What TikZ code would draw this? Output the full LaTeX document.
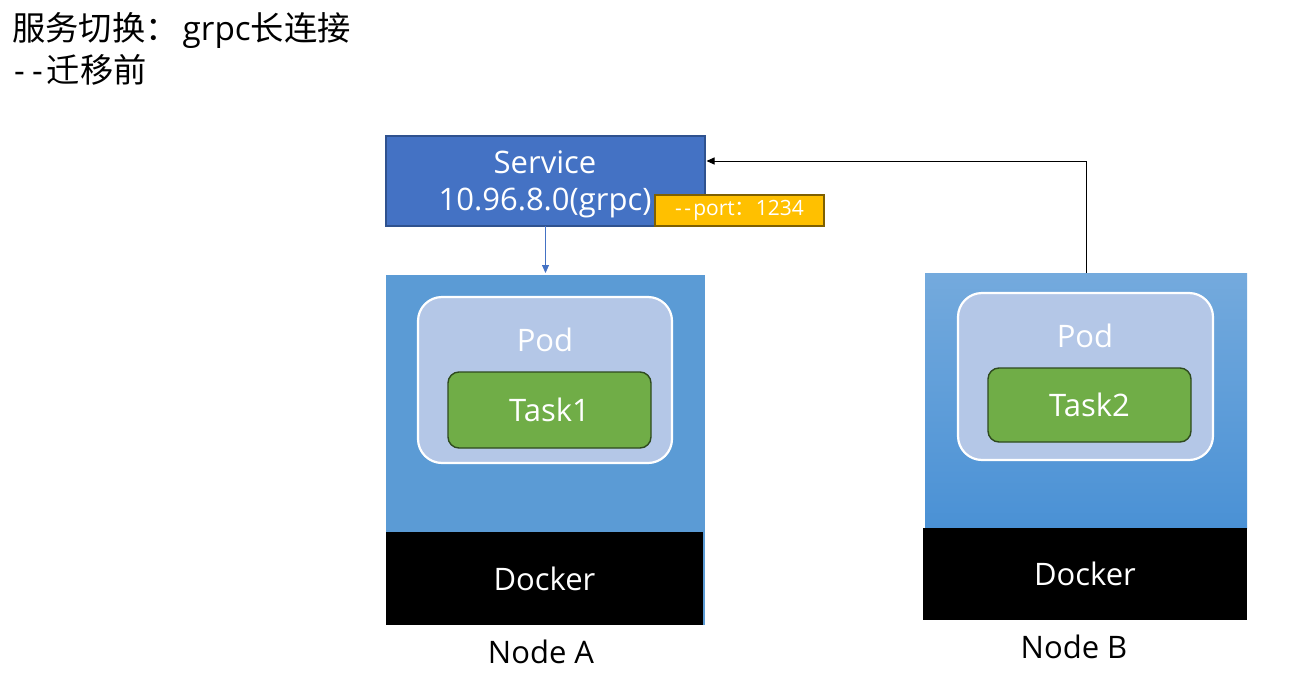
\documentclass[tikz,border=0pt]{standalone}
\usepackage{fontspec}
\setmainfont{Open Sans}
\newfontfamily\cjk{Noto Sans CJK SC}
\usetikzlibrary{arrows.meta,calc}
\definecolor{svcblue}{HTML}{4472C4}
\definecolor{svcborder}{HTML}{2F528F}
\definecolor{nodeblue}{HTML}{5B9BD5}
\definecolor{nodebtop}{HTML}{74AADD}
\definecolor{nodebbot}{HTML}{4A91D5}
\definecolor{podfill}{HTML}{B4C7E7}
\definecolor{taskfill}{HTML}{70AD47}
\definecolor{taskborder}{HTML}{2E4A1E}
\definecolor{portfill}{HTML}{FFC000}
\definecolor{portborder}{HTML}{7F6000}
\newcommand{\dd}{-\kern0.12em-\kern0.1em}
\newcommand{\tdd}{-\kern0.22em-\kern0.12em}
\tikzset{
  box/.style={draw=none,inner sep=0pt,outer sep=0pt},
  bigtext/.style={font=\fontsize{31}{34}\selectfont},
  titletext/.style={anchor=west,inner sep=0pt,font=\fontsize{33.3}{37}\selectfont},
  podbox/.style={box,fill=podfill,draw=white,line width=2.2pt,rounded corners=24pt},
  taskbox/.style={box,fill=taskfill,draw=taskborder,line width=1.4pt,rounded corners=11pt,text=white,bigtext},
  dockerbox/.style={box,fill=black,text=white,bigtext},
  arr/.style={-{Triangle[length=8pt,width=7pt]}}
}
\begin{document}
\begin{tikzpicture}[x=1pt,y=-1pt]
\useasboundingbox (0,0) rectangle (1302,683);
% title
\node[titletext] (t1) at (12,30) {{\cjk 服务切换：}\kern4pt grpc{\cjk 长连接}};
\node[titletext] (t2) at (14,70) {\tdd{\cjk 迁移前}};
% Node A
\node[box,fill=nodeblue,minimum width=319pt,minimum height=350pt] (nA) at (545.5,450) {};
\node[dockerbox,minimum width=317pt,minimum height=93pt] (dA) at (544.5,578.5) {Docker};
\node[podbox,minimum width=254pt,minimum height=166pt] (pA) at (545,380) {};
\node[text=white,bigtext] (pAl) at (545,340) {Pod};
\node[taskbox,minimum width=203pt,minimum height=76pt] (tA) at (549.5,410) {Task1};
\node[bigtext] (lA) at (541,652) {Node A};
% Node B
\node[box,top color=nodebtop,bottom color=nodebbot,minimum width=322pt,minimum height=255pt] (nB) at (1086,400.5) {};
\node[dockerbox,minimum width=324pt,minimum height=92pt] (dB) at (1085,574) {Docker};
\node[podbox,minimum width=255pt,minimum height=167pt] (pB) at (1085.5,376.5) {};
\node[text=white,bigtext] (pBl) at (1085,336) {Pod};
\node[taskbox,minimum width=203pt,minimum height=74pt] (tB) at (1089.5,405) {Task2};
\node[bigtext] (lB) at (1074,647) {Node B};
% Service
\node[box,fill=svcblue,draw=svcborder,line width=1.5pt,minimum width=319pt,minimum height=90pt] (svc) at (545.5,181) {};
\node[text=white,bigtext] (svc1) at (545,162) {Service};
\node[text=white,bigtext] (svc2) at (545,203) {10.96.8.0(grpc)};
\node[box,fill=portfill,draw=portborder,line width=1.5pt,minimum width=169pt,minimum height=31pt,text=white,font=\fontsize{21}{23}\selectfont] (port) at (739.5,210.5) {\dd port{\cjk ：}1234};
% connectors
\draw[arr,svcblue,line width=0.8pt,shorten >=2pt] (svc.south) -- (nA.north);
\coordinate (svcin) at ($(svc.east)+(1.5,-20)$);
\draw[arr,black,line width=1pt] (nB.north) |- (svcin);
\end{tikzpicture}
\end{document}
